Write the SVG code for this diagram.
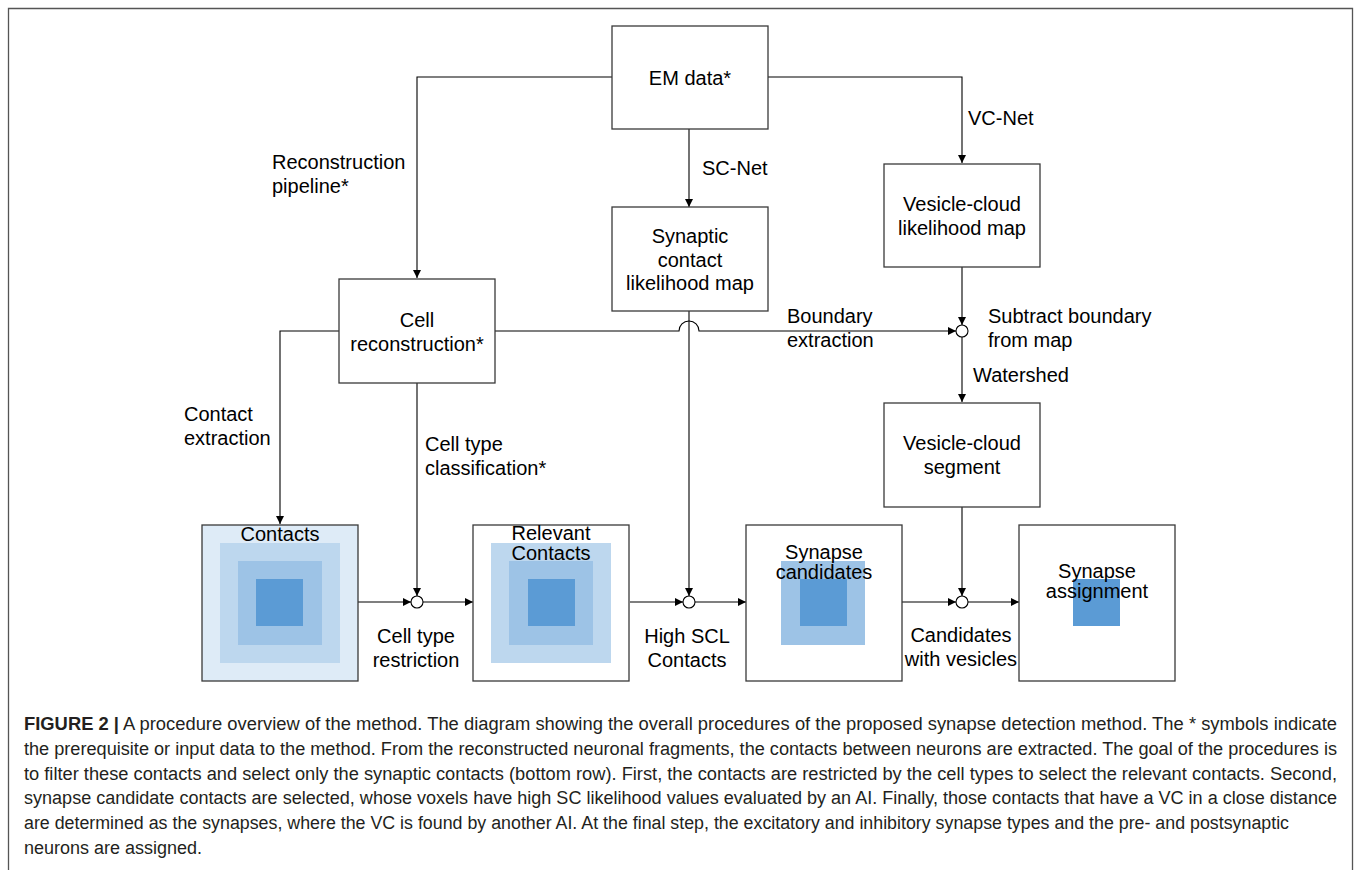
<svg xmlns="http://www.w3.org/2000/svg" width="1358" height="870" viewBox="0 0 1358 870">
<style>
.box{fill:#fff;stroke:#3a3a3a;stroke-width:1.3}
.t{font-family:"Liberation Sans",Arial,sans-serif;font-size:20px;fill:#000}
.c{text-anchor:middle}
.ln{fill:none;stroke:#000;stroke-width:1.1}
.arr{marker-end:url(#ah)}
.jn{fill:#fff;stroke:#000;stroke-width:1.1}
.s1{fill:#bdd7ee}.s2{fill:#9dc3e6}.s3{fill:#5b9bd5}
.cap{font-family:"Liberation Sans Narrow","Liberation Sans",Arial,sans-serif;font-size:18px;fill:#231f20}
</style>
<defs>
<marker id="ah" viewBox="0 0 10 10" refX="10" refY="5" markerWidth="9" markerHeight="8" markerUnits="userSpaceOnUse" orient="auto">
<path d="M0,0 L10,5 L0,10 z" fill="#000"/>
</marker>
</defs>
<rect width="1358" height="870" fill="#fff"/>
<path d="M8.5,870 V8.5 H1352.5 V870" fill="none" stroke="#555" stroke-width="1.3"/>

<g id="connectors">
<path class="ln arr" d="M612,77 H417 V278"/>
<path class="ln arr" d="M768,77 H962 V163"/>
<path class="ln arr" d="M689,129 V207"/>
<path class="ln arr" d="M962,267 V325"/>
<path class="ln arr" d="M495,331 H679 A10,10 0 0 1 699,331 H956"/>
<path class="ln arr" d="M689,311 V596"/>
<path class="ln arr" d="M962,337 V402"/>
<path class="ln arr" d="M962,507 V596"/>
<path class="ln arr" d="M339,331 H280 V524"/>
<path class="ln arr" d="M417,383 V596"/>
<path class="ln arr" d="M358,602 H411"/>
<path class="ln arr" d="M423,602 H473"/>
<path class="ln arr" d="M630,602 H683"/>
<path class="ln arr" d="M695,602 H746"/>
<path class="ln arr" d="M902,602 H956"/>
<path class="ln arr" d="M968,602 H1019"/>
<circle class="jn" cx="962" cy="331" r="6"/>
<circle class="jn" cx="417" cy="602" r="6"/>
<circle class="jn" cx="689" cy="602" r="6"/>
<circle class="jn" cx="962" cy="602" r="6"/>
</g>

<g id="labels">
<text class="t" x="272" y="169">Reconstruction</text>
<text class="t" x="272" y="193">pipeline*</text>
<text class="t" x="702" y="175">SC-Net</text>
<text class="t" x="968" y="125">VC-Net</text>
<text class="t" x="787" y="323">Boundary</text>
<text class="t" x="787" y="347">extraction</text>
<text class="t" x="988" y="323">Subtract boundary</text>
<text class="t" x="988" y="347">from map</text>
<text class="t" x="973" y="382">Watershed</text>
<text class="t" x="184" y="421">Contact</text>
<text class="t" x="184" y="445">extraction</text>
<text class="t" x="425" y="451">Cell type</text>
<text class="t" x="425" y="475">classification*</text>
<text class="t c" x="416" y="643">Cell type</text>
<text class="t c" x="416" y="667">restriction</text>
<text class="t c" x="687" y="643">High SCL</text>
<text class="t c" x="687" y="667">Contacts</text>
<text class="t c" x="961" y="642">Candidates</text>
<text class="t c" x="961" y="666">with vesicles</text>
</g>

<g id="em-data">
<rect class="box" x="612" y="26" width="156" height="103"/>
<text class="t c" x="690" y="85">EM data*</text>
</g>
<g id="synaptic-contact-map">
<rect class="box" x="612" y="207" width="156" height="104"/>
<text class="t c" x="690" y="243">Synaptic</text>
<text class="t c" x="690" y="267">contact</text>
<text class="t c" x="690" y="290">likelihood map</text>
</g>
<g id="vesicle-cloud-map">
<rect class="box" x="884" y="164" width="156" height="103"/>
<text class="t c" x="962" y="211">Vesicle-cloud</text>
<text class="t c" x="962" y="235">likelihood map</text>
</g>
<g id="cell-reconstruction">
<rect class="box" x="339" y="279" width="156" height="104"/>
<text class="t c" x="417" y="327">Cell</text>
<text class="t c" x="417" y="351">reconstruction*</text>
</g>
<g id="vesicle-cloud-segment">
<rect class="box" x="884" y="403" width="156" height="104"/>
<text class="t c" x="962" y="450">Vesicle-cloud</text>
<text class="t c" x="962" y="474">segment</text>
</g>
<g id="contacts">
<rect class="box" x="202" y="525" width="156" height="156" style="fill:#deebf7"/>
<rect class="s1" x="220" y="543" width="120" height="120"/>
<rect class="s2" x="238" y="561" width="84" height="84"/>
<rect class="s3" x="256" y="579" width="47" height="47"/>
<text class="t c" x="280" y="541">Contacts</text>
</g>
<g id="relevant-contacts">
<rect class="box" x="473" y="525" width="156" height="156"/>
<rect class="s1" x="491" y="543" width="120" height="120"/>
<rect class="s2" x="509" y="561" width="84" height="84"/>
<rect class="s3" x="528" y="579" width="47" height="47"/>
<text class="t c" x="551" y="540">Relevant</text>
<text class="t c" x="551" y="560">Contacts</text>
</g>
<g id="synapse-candidates">
<rect class="box" x="746" y="525" width="156" height="156"/>
<rect class="s2" x="781" y="561" width="84" height="84"/>
<rect class="s3" x="800" y="579" width="47" height="47"/>
<text class="t c" x="824" y="559">Synapse</text>
<text class="t c" x="824" y="579">candidates</text>
</g>
<g id="synapse-assignment">
<rect class="box" x="1019" y="525" width="156" height="156"/>
<rect class="s3" x="1073" y="579" width="47" height="47"/>
<text class="t c" x="1097" y="578">Synapse</text>
<text class="t c" x="1097" y="598">assignment</text>
</g>

<g id="caption">
<text class="cap" x="24" y="730" textLength="1313" lengthAdjust="spacingAndGlyphs"><tspan font-weight="bold">FIGURE 2 |</tspan> A procedure overview of the method. The diagram showing the overall procedures of the proposed synapse detection method. The * symbols indicate</text>
<text class="cap" x="24" y="755" textLength="1313" lengthAdjust="spacingAndGlyphs">the prerequisite or input data to the method. From the reconstructed neuronal fragments, the contacts between neurons are extracted. The goal of the procedures is</text>
<text class="cap" x="24" y="780" textLength="1313" lengthAdjust="spacingAndGlyphs">to filter these contacts and select only the synaptic contacts (bottom row). First, the contacts are restricted by the cell types to select the relevant contacts. Second,</text>
<text class="cap" x="24" y="804" textLength="1313" lengthAdjust="spacingAndGlyphs">synapse candidate contacts are selected, whose voxels have high SC likelihood values evaluated by an AI. Finally, those contacts that have a VC in a close distance</text>
<text class="cap" x="24" y="829" textLength="1265" lengthAdjust="spacingAndGlyphs">are determined as the synapses, where the VC is found by another AI. At the final step, the excitatory and inhibitory synapse types and the pre- and postsynaptic</text>
<text class="cap" x="24" y="854">neurons are assigned.</text>
</g>
</svg>
